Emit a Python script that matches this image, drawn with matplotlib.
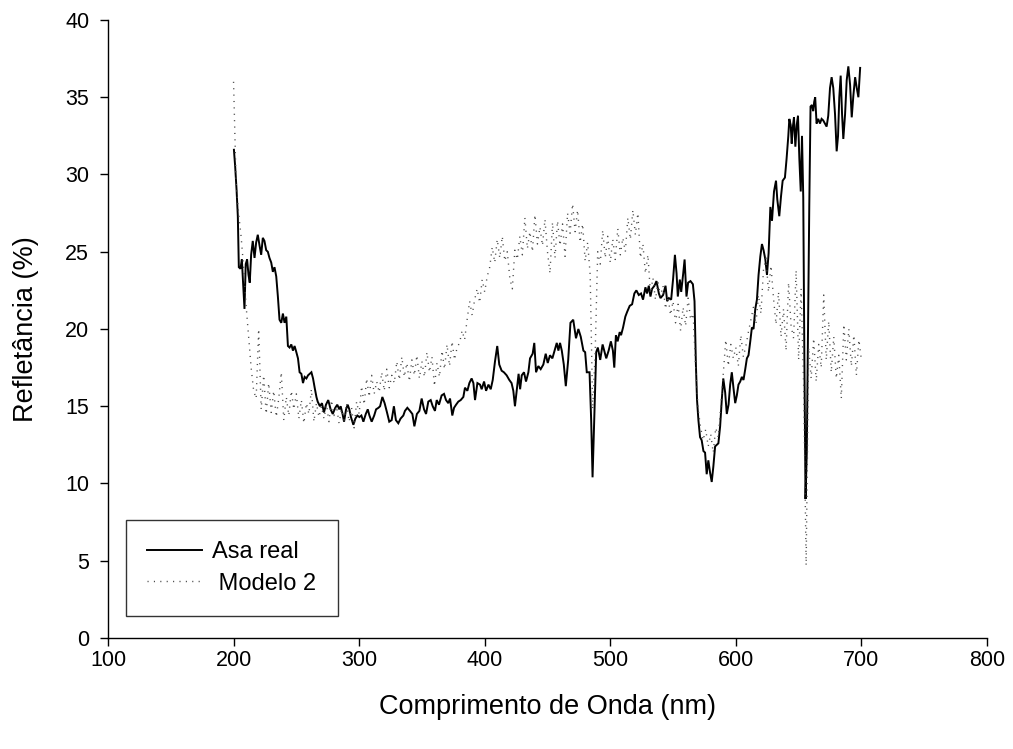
import matplotlib
matplotlib.use("Agg")
import matplotlib.pyplot as plt

plt.rcParams['font.family'] = ['Liberation Sans', 'DejaVu Sans']

# Asa real: measured reflectance spectrum (wavelength nm, reflectance %)
asa_nm = [
    200.3, 201.3, 202.4, 203.4, 204.2, 205.5, 206.6, 207.6, 208.7, 209.7,
    210.8, 211.9, 212.9, 214.0, 215.3, 216.7, 218.0, 219.3, 220.7, 222.0,
    223.3, 224.6, 226.0, 227.3, 228.6, 230.0, 231.3, 232.6, 234.0, 235.3,
    236.6, 238.0, 239.3, 240.6, 242.0, 243.3, 244.6, 246.0, 247.3, 248.6,
    250.0, 251.3, 252.6, 254.0, 255.3, 256.6, 258.0, 259.3, 260.6, 262.0,
    263.3, 264.6, 266.0, 267.0, 268.8, 270.4, 272.0, 273.6, 275.4, 277.3,
    279.0, 281.0, 282.6, 284.2, 285.3, 286.8, 288.0, 289.6, 290.9, 292.2,
    293.5, 295.4, 297.0, 298.6, 300.2, 301.8, 303.4, 305.3, 306.9, 308.2,
    310.0, 312.0, 313.5, 315.4, 316.7, 318.5, 320.3, 322.2, 324.0, 325.9,
    327.7, 329.3, 331.2, 333.0, 335.2, 336.5, 338.4, 340.5, 342.4, 344.0,
    346.0, 348.0, 349.8, 351.7, 353.3, 355.1, 357.0, 358.6, 360.4, 361.8,
    363.6, 365.7, 367.6, 369.2, 371.0, 372.4, 374.2, 375.6, 377.2, 379.0,
    380.9, 383.0, 384.3, 386.2, 387.8, 389.6, 391.0, 392.3, 394.2, 396.3,
    397.6, 399.5, 401.1, 403.0, 404.8, 406.4, 408.2, 410.0, 411.6, 413.5,
    415.3, 417.5, 419.6, 421.4, 422.8, 424.1, 425.5, 427.0, 428.2, 429.5,
    431.3, 432.9, 434.8, 436.1, 438.2, 439.5, 440.9, 442.7, 444.6, 446.7,
    448.6, 450.2, 452.0, 453.9, 456.0, 457.4, 458.7, 460.0, 461.4, 463.0,
    464.6, 466.5, 468.3, 470.5, 472.7, 474.6, 476.5, 478.6, 480.0, 481.3,
    483.5, 484.8, 485.9, 487.2, 488.8, 490.1, 492.0, 493.9, 495.5, 496.8,
    498.7, 500.5, 502.1, 503.2, 504.5, 505.9, 507.5, 508.6, 510.2, 512.0,
    513.4, 515.5, 517.4, 519.2, 520.8, 522.7, 524.5, 526.1, 528.0, 529.3,
    530.7, 532.0, 533.3, 535.2, 536.8, 538.7, 540.0, 542.1, 544.0, 545.3,
    546.7, 548.5, 550.1, 551.5, 552.8, 553.8, 555.4, 556.5, 558.1, 559.2,
    560.7, 562.0, 563.9, 565.8, 567.1, 568.2, 569.1, 570.2, 571.5, 572.8,
    574.2, 575.5, 576.8, 578.1, 579.5, 580.8, 582.1, 583.5, 584.8, 586.1,
    587.5, 588.8, 590.0, 591.5, 592.8, 594.2, 595.5, 596.8, 598.1, 599.5,
    600.8, 602.1, 603.5, 604.8, 606.1, 607.5, 608.8, 610.1, 611.5, 612.8,
    614.1, 615.5, 616.8, 618.1, 619.5, 620.8, 622.1, 623.5, 624.8, 626.1,
    627.5, 628.8, 630.4, 632.0, 633.0, 634.6, 636.0, 637.3, 639.1, 640.4,
    641.8, 642.6, 643.7, 644.5, 645.3, 646.3, 647.4, 648.5, 649.5, 650.6,
    651.7, 652.7, 653.7, 654.6, 655.5, 656.5, 657.5, 658.5, 659.5, 660.6,
    661.6, 662.4, 663.2, 664.3, 665.6, 667.0, 668.3, 669.6, 671.0, 672.3,
    673.6, 675.0, 676.3, 677.6, 679.0, 680.3, 681.4, 682.4, 683.5, 684.6,
    685.6, 687.0, 688.3, 689.6, 691.0, 692.3, 693.6, 695.0, 696.3, 697.6,
    699.0,
]
asa_refl = [
    31.6, 30.5, 29.0, 27.3, 24.0, 23.9, 24.5, 23.0, 21.3, 24.2,
    24.5, 23.5, 23.0, 24.8, 25.7, 24.6, 25.6, 26.1, 25.4, 24.8,
    25.9, 25.7, 25.1, 25.0, 24.6, 24.3, 23.7, 24.0, 23.4, 22.1,
    20.6, 20.4, 21.0, 20.4, 20.8, 18.9, 18.8, 19.0, 18.6, 18.9,
    18.5, 18.1, 17.2, 17.1, 16.5, 16.9, 16.8, 17.0, 17.1, 17.2,
    16.8, 16.2, 15.6, 15.3, 15.0, 15.2, 14.6, 15.1, 15.4, 14.8,
    14.5, 14.9, 15.1, 14.8, 15.0, 14.5, 14.0, 14.8, 15.1, 14.8,
    14.3, 13.8, 14.2, 14.4, 14.3, 14.4, 14.0, 14.5, 14.8, 14.4,
    14.0, 14.4, 14.8, 14.9, 15.0, 15.6, 15.2, 14.6, 14.0, 14.1,
    15.0, 14.1, 13.9, 14.2, 14.4, 14.7, 14.9, 14.7, 14.5, 13.7,
    14.5, 14.7, 15.5, 14.8, 14.5, 15.3, 15.4, 15.0, 14.7, 15.4,
    15.1, 15.7, 15.8, 15.4, 15.2, 15.5, 14.4, 14.9, 15.1, 15.3,
    15.4, 15.6, 16.2, 16.0, 16.5, 16.8, 16.5, 15.4, 16.5, 16.4,
    16.1, 16.6, 16.0, 16.4, 16.1, 16.7, 17.9, 18.9, 17.7, 17.3,
    17.2, 17.0, 16.7, 16.5, 16.0, 15.0, 16.0, 17.1, 16.1, 17.0,
    17.2, 16.6, 17.2, 18.1, 18.4, 19.1, 17.2, 17.6, 17.4, 17.7,
    18.4, 17.8, 18.3, 18.1, 18.7, 19.1, 18.6, 19.1, 18.6, 17.7,
    16.3, 18.0, 20.4, 20.6, 19.4, 20.0, 19.5, 18.6, 18.5, 17.2,
    17.2, 14.1, 10.4, 14.1, 18.5, 18.8, 18.0, 19.0, 18.5, 18.1,
    18.6, 19.2, 18.6, 17.5, 19.6, 19.2, 19.8, 19.6, 20.1, 20.8,
    21.1, 21.5, 21.6, 22.3, 22.5, 22.2, 22.3, 21.9, 22.7, 22.3,
    22.8, 22.1, 22.6, 22.8, 23.1, 22.3, 22.0, 22.2, 22.8, 21.8,
    22.0, 21.9, 23.3, 24.8, 23.6, 22.1, 23.2, 22.4, 23.6, 24.5,
    22.1, 23.0, 23.1, 22.9, 21.8, 17.7, 15.4, 14.1, 13.0, 12.8,
    12.1, 12.0, 10.6, 11.5, 10.7, 10.1, 11.1, 12.4, 12.5, 12.6,
    13.7, 15.4, 16.8, 15.9, 14.5, 15.1, 16.4, 17.2, 16.2, 15.2,
    15.7, 16.4, 16.6, 16.9, 16.7, 17.4, 18.1, 18.3, 19.2, 20.1,
    20.0, 21.3, 21.9, 23.5, 24.7, 25.5, 25.1, 24.5, 23.5, 24.9,
    27.9, 27.0, 28.9, 29.6, 28.4, 27.3, 28.6, 29.6, 29.8, 31.0,
    32.5, 33.6, 33.2, 32.0, 33.0, 33.7, 31.8, 33.2, 33.8, 31.0,
    28.9, 32.5, 28.5, 18.0, 9.0, 12.0, 20.0, 28.0, 34.4, 34.5,
    34.1, 34.7, 35.0, 33.3, 33.6, 33.3, 33.6, 33.5, 33.3, 33.1,
    33.8, 35.6, 36.3, 35.6, 33.9, 31.5, 32.5, 35.0, 36.4, 33.9,
    32.3, 33.9, 36.1, 37.0, 35.8, 33.7, 35.1, 36.3, 35.6, 35.0,
    36.9,
]

# Modelo 2: simulated reflectance, sampled every 2 nm from 200 to 700 nm
modelo_nm = list(range(200, 701, 2))
modelo_refl = [
    36.0, 29.5, 27.5, 26.0, 24.0, 21.5, 19.5, 17.5, 16.0, 15.5,
    20.0, 14.8, 17.0, 14.5, 16.5, 14.6, 16.0, 14.3, 15.5, 17.2,
    14.1, 15.6, 14.4, 16.0, 14.8, 15.8, 14.2, 15.4, 13.9, 15.2,
    14.5, 16.1, 14.0, 15.2, 14.3, 15.0, 14.2, 15.1, 14.0, 15.4,
    14.4, 15.0, 13.9, 14.8, 14.1, 15.2, 14.0, 14.9, 13.6, 15.3,
    14.5, 16.3, 15.1, 16.8, 15.6, 17.0, 15.8, 16.6, 15.9, 17.2,
    16.0, 17.4, 16.2, 17.0, 16.5, 17.9, 16.7, 18.2, 16.9, 17.8,
    16.6, 18.0, 17.0, 18.3, 16.8, 17.9, 16.9, 18.5, 17.2, 18.2,
    16.3, 17.8, 16.9, 18.6, 17.4, 19.0, 17.6, 19.2, 18.0, 18.8,
    19.1, 19.9, 19.3, 20.6, 21.8, 20.9, 21.9, 22.6, 21.7, 23.2,
    22.4, 23.4, 24.0, 25.3, 24.3, 25.8, 24.6, 26.0, 24.4, 25.0,
    23.3, 22.6, 25.1, 24.5, 26.0, 24.8, 27.2, 25.2, 26.3, 25.0,
    27.4, 25.5, 26.6, 25.4, 27.1, 25.0, 23.6, 26.9, 24.6, 27.0,
    25.4, 26.8, 24.7, 27.5, 26.2, 28.1, 26.3, 27.7, 25.6, 26.8,
    24.4, 25.6, 23.5, 14.8, 18.5, 25.0, 24.2, 26.4, 24.6, 26.0,
    24.3, 25.8, 24.5, 26.5, 24.8, 25.9, 25.0, 27.2, 25.8, 27.7,
    26.1, 27.5, 24.6, 25.5, 23.6, 24.8, 22.3, 23.3, 21.9, 23.0,
    22.1, 22.8, 21.3, 22.1, 20.9, 21.8, 20.4, 21.6, 19.9, 21.4,
    20.2, 22.0, 20.6, 21.0, 17.5, 14.8, 13.6, 12.8, 13.5, 12.4,
    13.2, 12.0, 13.6, 13.0, 15.0, 17.1, 19.3, 17.6, 19.0, 18.1,
    18.8, 17.6, 19.6, 18.2, 18.9, 19.8, 20.6, 21.4, 20.3, 22.2,
    21.0, 23.8, 24.6, 22.4, 24.1, 22.0, 20.3, 22.4, 19.5, 21.3,
    18.6, 23.0, 20.2, 19.4, 23.8, 18.0, 22.6, 16.4, 4.7, 18.8,
    16.8, 19.4, 16.6, 19.0, 17.5, 22.2, 18.0, 20.5, 17.2, 19.5,
    16.8, 18.3, 15.5, 20.3, 18.0, 20.0, 17.6, 19.6, 17.0, 19.3,
    18.0,
]

x_ticks = [100, 200, 300, 400, 500, 600, 700, 800]
y_ticks = [0, 5, 10, 15, 20, 25, 30, 35, 40]

fig = plt.figure(figsize=(10.13, 7.49), dpi=100)
ax = fig.add_axes([0.1066, 0.1482, 0.8677, 0.8251])

ax.plot(asa_nm, asa_refl, color='black', lw=1.4, label='Asa real',
        solid_joinstyle='miter')
ax.plot(modelo_nm, modelo_refl, color='#4a4a4a', lw=1.0,
        linestyle=(0, (0.8, 3.8)), label=' Modelo 2')

ax.set_xlim(100, 800)
ax.set_ylim(0, 40)
ax.set_xticks(x_ticks)
ax.set_yticks(y_ticks)

for side in ('top', 'right'):
    ax.spines[side].set_visible(False)
for side in ('left', 'bottom'):
    ax.spines[side].set_linewidth(1.0)

ax.tick_params(direction='out', length=6, width=1.0, labelsize=15.5)
ax.tick_params(axis='x', pad=2.5)
ax.tick_params(axis='y', pad=7.5)

ax.set_xlabel('Comprimento de Onda (nm)', fontsize=19.5, labelpad=17)
ax.set_ylabel('Refletância (%)', fontsize=19.5, labelpad=19)

leg = ax.legend(loc='lower left', bbox_to_anchor=(0.0205, 0.036),
                borderaxespad=0, fontsize=17, frameon=True, fancybox=False,
                handlelength=2.3, handletextpad=0.45, borderpad=0.9,
                labelspacing=0.4)
leg.get_frame().set_edgecolor('black')
leg.get_frame().set_linewidth(1.0)

fig.savefig('out.png', dpi=100)
